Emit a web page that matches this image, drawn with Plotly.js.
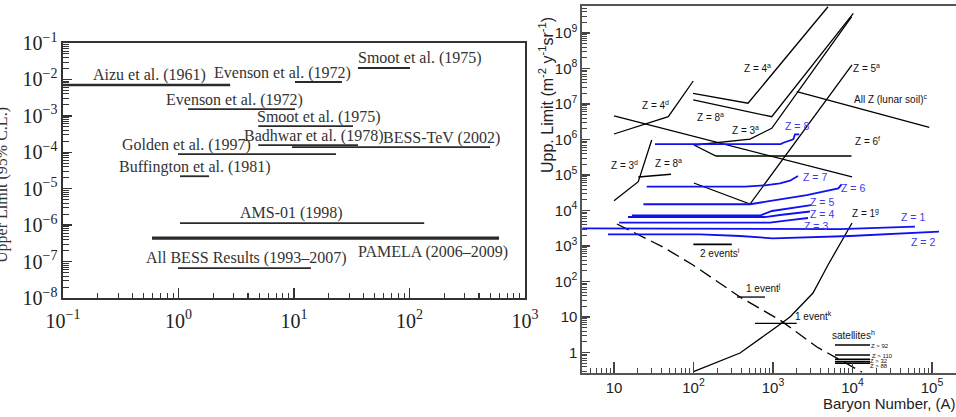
<!DOCTYPE html>
<html><head><meta charset="utf-8">
<script src="https://cdn.plot.ly/plotly-3.0.1.min.js"></script>
<style>body{margin:0;background:#fff}#chart{width:956px;height:417px}</style>
</head><body><div id="chart"></div>
<script>
// ---------- LEFT PANEL DATA (antihelium/helium limits vs rigidity) ----------
const expNames = ["Aizu et al. (1961)", "Evenson et al. (1972)", "Smoot et al. (1975)", "Evenson et al. (1972)",
  "Smoot et al. (1975)", "Badhwar et al. (1978)", "BESS-TeV (2002)", "Golden et al. (1997)",
  "Buffington et al. (1981)", "AMS-01 (1998)", "PAMELA (2006–2009)", "All BESS Results (1993–2007)"];
const expRigMin = [0.1, 10.2, 35.8, 1.21, 4.9, 4.9, 9.6, 0.99, 1.03, 1.03, 0.59, 0.99];
const expRigMax = [2.8, 26, 101, 10.2, 32.4, 35.8, 498, 23.1, 1.84, 134, 596, 14.0];
const expLimit  = [7.0e-3, 8.5e-3, 2.06e-2, 1.54e-3, 5.2e-4, 1.58e-4, 1.39e-4, 8.9e-5, 2.2e-5, 1.14e-6, 4.4e-7, 6.6e-8];

const leftXTickVals = [0.1, 1, 10, 100, 1000];
const leftXTickText = ["10<sup>−1</sup>", "10<sup>0</sup>", "10<sup>1</sup>", "10<sup>2</sup>", "10<sup>3</sup>"];
const leftYTickVals = [1e-8, 1e-7, 1e-6, 1e-5, 1e-4, 1e-3, 1e-2, 1e-1];
const leftYTickText = ["10<sup>−8</sup>", "10<sup>−7</sup>", "10<sup>−6</sup>", "10<sup>−5</sup>", "10<sup>−4</sup>", "10<sup>−3</sup>", "10<sup>−2</sup>", "10<sup>−1</sup>"];

// ---------- RIGHT PANEL DATA (upper limit flux vs baryon number) ----------
const z4dA = [10, 48.2, 99.3];          const z4dV = [1.43e6, 4.38e6, 4.45e7];
const crossA = [10, 9860];              const crossV = [4.6e6, 8.8e4];
const z3dA = [10, 20.2, 29.8];          const z3dV = [1.89e4, 6.47e4, 9.7e5];
const z8smallA = [20.2, 52.1];          const z8smallV = [8.8e4, 1.05e5];
const z4aA = [98.6, 485, 4920];         const z4aV = [1.98e7, 1.05e7, 5.5e9];
const z8aA = [99.3, 964, 10240];        const z8aV = [1.30e7, 4.38e6, 3.59e9];
const z3aA = [104, 514, 964, 9770];     const z3aV = [7.0e5, 1.03e6, 2.07e6, 2.88e9];
const z6fA = [101, 192, 9700];          const z6fV = [7.0e5, 3.43e5, 3.43e5];
const z5aA = [101, 514, 9860];          const z5aV = [5.96e4, 1.52e4, 1.26e8];
const lunarA = [1990, 92500];           const lunarV = [2.22e7, 2.21e6];
const z1gA = [100, 385, 1059, 1636, 3185, 4920, 9860];
const z1gV = [0.29, 0.97, 4.9, 10, 47.4, 292, 4450];
const dashA = [10.9, 41.3, 98.6, 215, 385, 1224, 3575, 13150];
const dashV = [4170, 937, 292, 90.8, 36.5, 8.2, 1.43, 0.28];
const twoEvA = [99.6, 303];             const twoEvV = [1117, 1117];
const oneEvJA = [352, 793];             const oneEvJV = [36.5, 36.5];
const oneEvKA = [594, 1986];            const oneEvKV = [6.6, 6.6];
const satA = [6030, 16600];
const satV = [1.63, 0.85, 0.64, 0.55, 0.50];

// blue search curves
const z8A = [32.8, 1250, 1349, 1800, 1893, 2143];  const z8V = [7.46e5, 7.46e5, 8.1e5, 1.01e6, 1.40e6, 1.40e6];
const z7A = [25.8, 445, 792, 1224, 1636, 2061];    const z7V = [4.68e4, 4.68e4, 5.13e4, 5.84e4, 6.9e4, 9.4e4];
const z6A = [23.4, 514, 817, 2655, 6630, 7300];    const z6V = [1.50e4, 1.50e4, 1.77e4, 2.73e4, 4.22e4, 5.47e4];
const z5A = [16.8, 686, 971, 1636, 3005];          const z5V = [7230, 7230, 9690, 11750, 14280];
const z4A = [15, 793, 1224, 1893, 2920];           const z4V = [6560, 6560, 7470, 8500, 9380];
const z3A = [11.6, 916, 1636, 2755];               const z3V = [4530, 4530, 5400, 6150];
const z1A = [4.0, 121, 385, 6970, 61100];          const z1V = [3155, 3155, 3110, 3010, 3500];
const z2A = [8.4, 121, 385, 1000, 9310, 122400];   const z2V = [2140, 2140, 1915, 1650, 1915, 2530];

const rightXTickVals = [10, 100, 1000, 1e4, 1e5];
const rightXTickText = ["10", "10<sup>2</sup>", "10<sup>3</sup>", "10<sup>4</sup>", "10<sup>5</sup>"];
const rightYTickVals = [1, 10, 100, 1e3, 1e4, 1e5, 1e6, 1e7, 1e8, 1e9];
const rightYTickText = ["1", "10", "10<sup>2</sup>", "10<sup>3</sup>", "10<sup>4</sup>", "10<sup>5</sup>", "10<sup>6</sup>", "10<sup>7</sup>", "10<sup>8</sup>", "10<sup>9</sup>"];

// ---------- BUILD ----------
const W = 956, H = 417;
function P(xp, yp) { return {x: xp / W, y: 1 - yp / H, xref: 'paper', yref: 'paper'}; }
function minorVals(lo, hi) { const v = []; for (let e = lo; e <= hi; e++) for (let k = 2; k <= 9; k++) v.push(k * Math.pow(10, e)); return v; }

const traces = [];
const leftWidths = [2.6, 1.8, 1.8, 1.8, 1.8, 1.8, 1.8, 1.8, 1.8, 1.8, 3.4, 1.8];
expNames.forEach((n, i) => {
  traces.push({x: [expRigMin[i], expRigMax[i]], y: [expLimit[i], expLimit[i]], xaxis: 'x', yaxis: 'y',
    mode: 'lines', line: {color: '#2a2a2a', width: leftWidths[i]}, hoverinfo: 'skip', name: n});
});

function blk(a, v, extra) {
  traces.push(Object.assign({x: a, y: v, xaxis: 'x2', yaxis: 'y2', mode: 'lines',
    line: {color: '#000', width: 1.3}, hoverinfo: 'skip'}, extra || {}));
}
blk(z4dA, z4dV); blk(crossA, crossV); blk(z3dA, z3dV); blk(z8smallA, z8smallV);
blk(z4aA, z4aV); blk(z8aA, z8aV); blk(z3aA, z3aV); blk(z6fA, z6fV); blk(z5aA, z5aV);
blk(lunarA, lunarV); blk(z1gA, z1gV);
blk(dashA, dashV, {line: {color: '#000', width: 1.3, dash: '13px,6px'}});
blk(twoEvA, twoEvV, {line: {color: '#000', width: 1.8}});
blk(oneEvJA, oneEvJV); blk(oneEvKA, oneEvKV);
satV.forEach(v => blk(satA, [v, v], {line: {color: '#000', width: 1.6}}));

const BLUE = '#1010f0';
function blu(a, v) { blk(a, v, {line: {color: BLUE, width: 1.8}}); }
blu(z8A, z8V); blu(z7A, z7V); blu(z6A, z6V); blu(z5A, z5V);
blu(z4A, z4V); blu(z3A, z3V); blu(z1A, z1V); blu(z2A, z2V);

// ---------- ANNOTATIONS ----------
const serif = 'Liberation Serif, Times New Roman, serif';
const sans = 'Liberation Sans, Arial, sans-serif';
const ann = [];
function A(text, xp, yp, size, color, family, extra) {
  ann.push(Object.assign(P(xp, yp), {text: text, showarrow: false, xanchor: 'center', yanchor: 'middle',
    font: {size: size, color: color, family: family}}, extra || {}));
}
const leftLabelPos = [[149, 75], [282, 73], [420, 58], [234, 100], [319, 117], [314, 136], [441, 138],
  [186, 145], [195, 167], [291, 213], [433, 252], [246, 258]];
expNames.forEach((n, i) => A(n, leftLabelPos[i][0], leftLabelPos[i][1], 16, '#333', serif));
A('Upper Limit (95% C.L.)', 2, 185, 16, '#333', serif, {textangle: -90});

const rightLabels = [
  ['Z = 4<sup>d</sup>', 655, 105], ['Z = 8<sup>a</sup>', 710, 117], ['Z = 3<sup>d</sup>', 624, 165],
  ['Z = 8<sup>a</sup>', 668, 163], ['Z = 4<sup>a</sup>', 757, 68], ['Z = 5<sup>a</sup>', 866, 68],
  ['All Z (lunar soil)<sup>c</sup>', 890, 99], ['Z = 3<sup>a</sup>', 745, 130], ['Z = 6<sup>f</sup>', 867, 141],
  ['Z = 1<sup>g</sup>', 865, 213], ['2 events<sup>i</sup>', 720, 253], ['1 event<sup>j</sup>', 763, 288],
  ['1 event<sup>k</sup>', 813, 316], ['satellites<sup>h</sup>', 853, 335]];
rightLabels.forEach(l => A(l[0], l[1], l[2], 10, '#111', sans));
[['Z > 92', 880, 346], ['Z > 110', 882, 356], ['Z > 32', 879, 361], ['Z > 88', 879, 366]].forEach(l => A(l[0], l[1], l[2], 6, '#111', sans));
const blueLabels = [['Z = 8', 797, 126], ['Z = 7', 815, 177], ['Z = 6', 853, 188], ['Z = 5', 822, 202],
  ['Z = 4', 822, 214], ['Z = 3', 816, 226], ['Z = 1', 913, 217], ['Z = 2', 923, 242]];
blueLabels.forEach(l => A(l[0], l[1], l[2], 10.5, '#3a3af0', sans));
A('Upp. Limit (m<sup>-2</sup> y<sup>-1</sup>sr<sup>-1</sup>)', 546, 95, 16, '#222', sans, {textangle: -90});
A('Baryon Number, (A)', 889, 403, 15, '#222', sans);

// ---------- AXES ----------
function axis(common) {
  return Object.assign({type: 'log', showgrid: false, zeroline: false, showline: true, ticks: 'inside',
    tickmode: 'array', fixedrange: true}, common);
}
const layout = {
  width: W, height: H, margin: {l: 0, r: 0, t: 0, b: 0}, showlegend: false,
  paper_bgcolor: '#fff', plot_bgcolor: '#fff',
  xaxis: axis({domain: [63 / W, 525 / W], range: [-1, 3], anchor: 'y', mirror: true,
    linecolor: '#333', linewidth: 1.6, tickcolor: '#333', ticklen: 10, tickwidth: 1.4,
    tickvals: leftXTickVals, ticktext: leftXTickText, ticklabelstandoff: 4,
    tickfont: {family: serif, size: 20, color: '#222'},
    minor: {ticks: 'inside', ticklen: 5, tickcolor: '#333', tickwidth: 1.2, tickmode: 'array', tickvals: minorVals(-1, 2), showgrid: false}}),
  yaxis: axis({domain: [1 - 298 / H, 1 - 43 / H], range: [-8, -1], anchor: 'x', mirror: true,
    linecolor: '#333', linewidth: 1.6, tickcolor: '#333', ticklen: 9, tickwidth: 1.4,
    tickvals: leftYTickVals, ticktext: leftYTickText,
    tickfont: {family: serif, size: 20, color: '#222'},
    minor: {ticks: 'inside', ticklen: 6, tickcolor: '#333', tickwidth: 1, tickmode: 'array', tickvals: minorVals(-8, -2), showgrid: false}}),
  xaxis2: axis({domain: [582 / W, 1], range: [0.5975, 5.302], anchor: 'y2', mirror: true,
    linecolor: '#555', linewidth: 1.6, tickcolor: '#444', ticklen: 11, tickwidth: 1.2,
    tickvals: rightXTickVals, ticktext: rightXTickText,
    tickfont: {family: sans, size: 15, color: '#222'},
    minor: {ticks: 'inside', ticklen: 5, tickcolor: '#444', tickwidth: 1, tickmode: 'array', tickvals: minorVals(0, 5), showgrid: false}}),
  yaxis2: axis({domain: [1 - 373 / H, 1 - 6 / H], range: [-0.577, 9.761], anchor: 'x2', mirror: false,
    linecolor: '#555', linewidth: 1.6, tickcolor: '#444', ticklen: 8, tickwidth: 1.2,
    tickvals: rightYTickVals, ticktext: rightYTickText,
    tickfont: {family: sans, size: 15, color: '#222'},
    minor: {ticks: 'inside', ticklen: 5, tickcolor: '#444', tickwidth: 1, tickmode: 'array', tickvals: minorVals(-1, 9), showgrid: false}}),
  annotations: ann
};
Plotly.newPlot('chart', traces, layout, {staticPlot: true, displayModeBar: false});
</script></body></html>
